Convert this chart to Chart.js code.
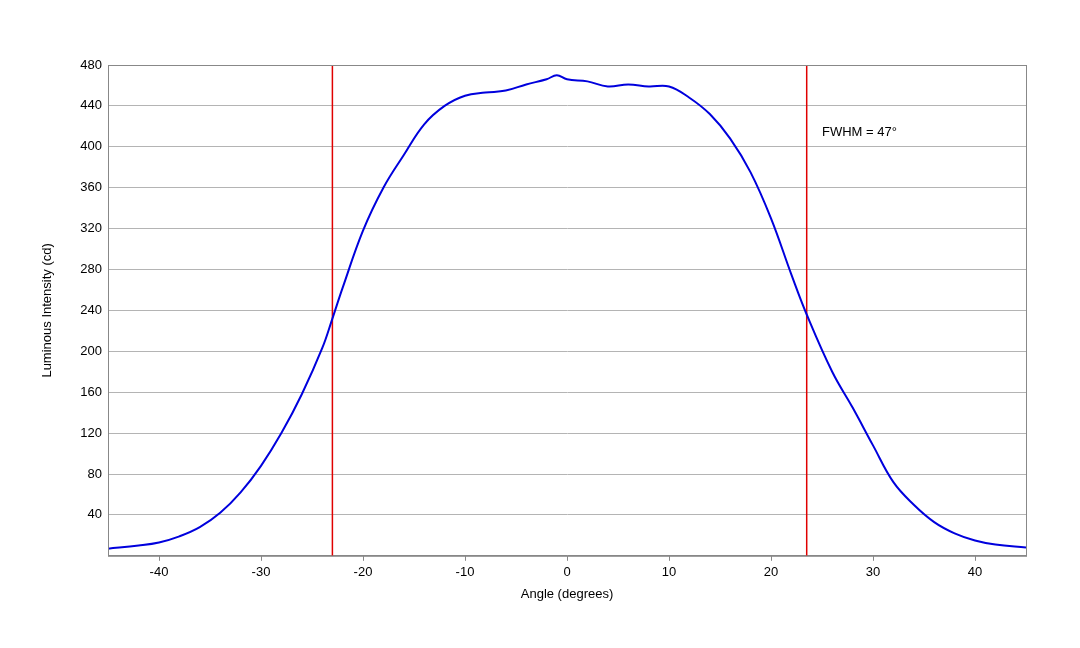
<!DOCTYPE html>
<html><head><meta charset="utf-8">
<script src="https://cdn.jsdelivr.net/npm/chart.js@4"></script>
<style>body{margin:0;background:#fff}#wrap{width:1080px;height:648px}</style>
</head><body><div id="wrap"><canvas id="c"></canvas></div>
<script>
// angolo (gradi) e intensità (cd)
const angles = [-45,-42,-40,-38,-36,-34,-32,-30,-28,-26,-24,-23,-22,-20,-18,-16,-14,-12,-10,-8,-6,-4,-2,-1,0,2,4,6,8,10,12,14,16,18,20,22,23.5,26,28,30,32,34,36,38,40,42,45];
const intensity = [7,10,13,19,28,42,62,88,120,158,203,232,262,318,360,392,422,440,450,453,455,461,466,470,466,464,459,461,459,459,448,432,408,375,330,275,236,180,145,108,72,50,33,22,15,11,8];
const xTicks = [-40,-30,-20,-10,0,10,20,30,40];
const fwhmLines = [-23, 23.5];
const fwhmLabel = 'FWHM = 47°';

Chart.defaults.font.family = "'Liberation Sans', Arial, sans-serif";
Chart.defaults.font.size = 13;
Chart.defaults.color = '#000';

const curve = angles.map((a, i) => ({x: a, y: intensity[i]}));
const redSets = fwhmLines.map(x => ({
  data: [{x: x, y: 0}, {x: x, y: 480}],
  borderColor: '#e00000', borderWidth: 1.5, pointRadius: 0, showLine: true
}));

const labelPlugin = {
  id: 'fwhm',
  afterDraw(chart) {
    const c = chart.ctx;
    c.save();
    c.font = "13px 'Liberation Sans', Arial, sans-serif";
    c.fillStyle = '#000';
    c.fillText(fwhmLabel, chart.scales.x.getPixelForValue(25), chart.scales.y.getPixelForValue(411));
    c.restore();
  }
};

new Chart(document.getElementById('c'), {
  type: 'scatter',
  data: {
    datasets: [{
      data: curve, borderColor: '#0000dd', borderWidth: 2,
      pointRadius: 0, showLine: true, tension: 0.4
    }, ...redSets]
  },
  options: {
    responsive: true, maintainAspectRatio: false, animation: false,
    layout: {padding: {left: 36, right: 54, top: 65, bottom: 44}},
    plugins: {legend: {display: false}, tooltip: {enabled: false}},
    scales: {
      x: {
        type: 'linear', min: -45, max: 45,
        border: {color: '#888'},
        afterBuildTicks(s) { s.ticks = xTicks.map(v => ({value: v})); },
        grid: {drawOnChartArea: false, drawTicks: true, tickLength: 5, color: '#888'},
        ticks: {padding: 4},
        title: {display: true, text: 'Angle (degrees)', font: {size: 13}, padding: 2}
      },
      y: {
        min: 0, max: 480,
        border: {color: '#888'},
        grid: {color: '#b4b4b4', drawTicks: false},
        afterFit(s) { s.width = 72; },
        ticks: {stepSize: 40, padding: 6, callback: v => v === 0 ? '' : v},
        title: {display: true, text: 'Luminous Intensity (cd)', font: {size: 13}}
      }
    }
  },
  plugins: [labelPlugin, {
    id: 'box',
    afterDraw(chart) {
      const a = chart.chartArea, c = chart.ctx;
      c.save(); c.strokeStyle = '#888'; c.lineWidth = 1;
      c.strokeRect(a.left + 0.5, a.top + 0.5, a.right - a.left, a.bottom - a.top);
      c.restore();
    }
  }]
});
</script></body></html>
